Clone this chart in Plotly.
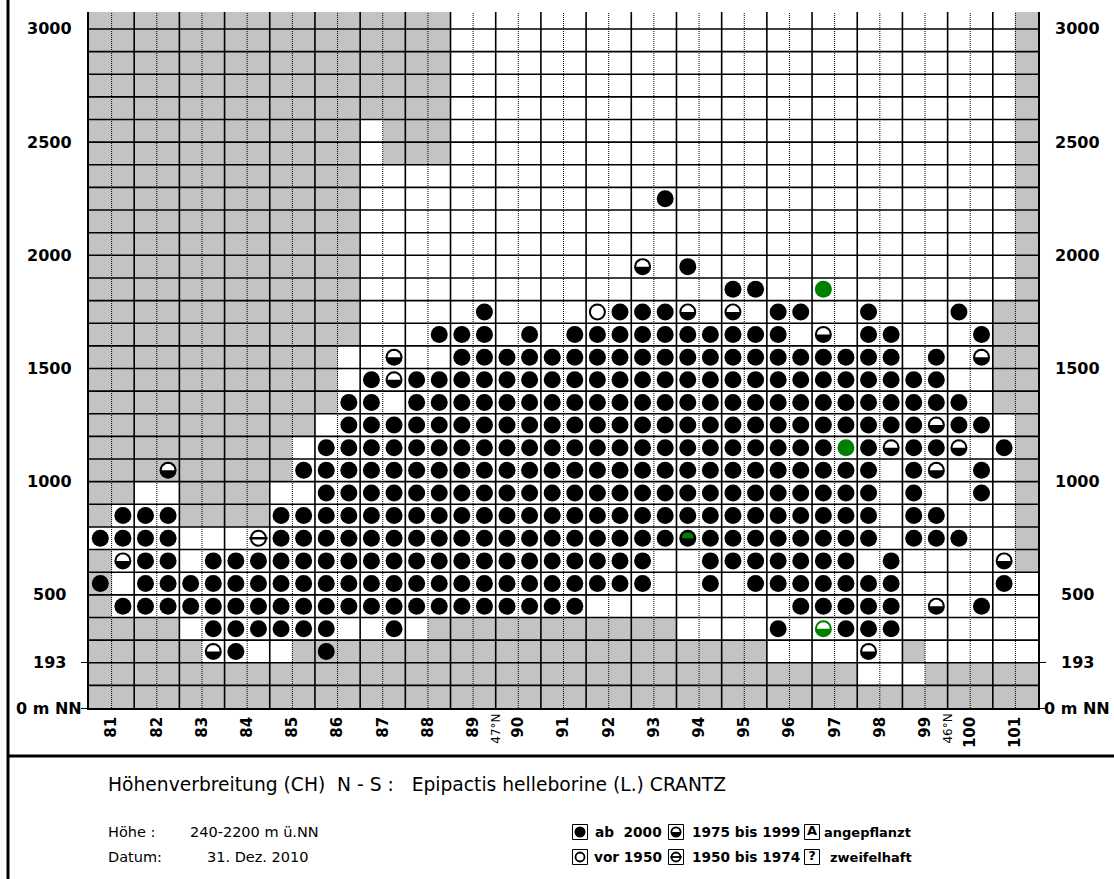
import numpy as np
import plotly.graph_objects as go

# ---------------- data ----------------
N_COLS = 42                       # grid columns (two per label)
N_ROWS = 31                       # 100 m elevation bands, 0 .. 3100
BAND = 100
Y_TOP = 3075
col_labels = [str(v) for v in range(81, 102)]
col_label_pos = [1 + 2 * i for i in range(21)]
lat_text = ['47°N', '46°N']
lat_pos = [18, 38]
ytick_vals = [3000, 2500, 2000, 1500, 1000, 500, 200, 0]
ytick_text = ['3000', '2500', '2000', '1500', '1000', '500', '193', '0 m NN']

# grey (outside area) cells per band: (first col, last col)
gray_runs = {
    30: [(0, 15), (41, 41)], 29: [(0, 15), (41, 41)], 28: [(0, 15), (41, 41)],
    27: [(0, 15), (41, 41)], 26: [(0, 15), (41, 41)],
    25: [(0, 11), (13, 15), (41, 41)], 24: [(0, 11), (13, 15), (41, 41)],
    23: [(0, 11), (41, 41)], 22: [(0, 11), (41, 41)], 21: [(0, 11), (41, 41)],
    20: [(0, 11), (41, 41)], 19: [(0, 11), (41, 41)], 18: [(0, 11), (41, 41)],
    17: [(0, 11), (40, 41)], 16: [(0, 11), (40, 41)],
    15: [(0, 10), (40, 41)], 14: [(0, 10), (40, 41)], 13: [(0, 10), (40, 41)],
    12: [(0, 9), (41, 41)],
    11: [(0, 8), (41, 41)], 10: [(0, 8), (41, 41)],
    9: [(0, 1), (4, 7), (41, 41)],
    8: [(0, 0), (4, 7), (41, 41)],
    7: [(41, 41)],
    6: [(0, 0), (41, 41)],
    5: [(0, 0)],
    4: [(0, 0)],
    3: [(0, 3), (15, 25)],
    2: [(0, 4), (9, 29), (36, 36)],
    1: [(0, 33), (37, 41)],
    0: [(0, 41)],
}

# records per band: (first col, last col, kind)
# F = ab 2000, O = vor 1950, H = 1975 bis 1999, L = 1950 bis 1974,
# G = green filled, g = green 1975-1999, K = black with green top
record_runs = {
    22: [(25, 25, 'F')],
    19: [(24, 24, 'H'), (26, 26, 'F')],
    18: [(28, 29, 'F'), (32, 32, 'G')],
    17: [(17, 17, 'F'), (22, 22, 'O'), (23, 25, 'F'), (26, 26, 'H'), (28, 28, 'H'),
         (30, 31, 'F'), (34, 34, 'F'), (38, 38, 'F')],
    16: [(15, 17, 'F'), (19, 19, 'F'), (21, 30, 'F'), (32, 32, 'H'), (34, 35, 'F'), (39, 39, 'F')],
    15: [(13, 13, 'H'), (16, 35, 'F'), (37, 37, 'F'), (39, 39, 'H')],
    14: [(12, 12, 'F'), (13, 13, 'H'), (14, 37, 'F')],
    13: [(11, 12, 'F'), (14, 38, 'F')],
    12: [(11, 36, 'F'), (37, 37, 'H'), (38, 39, 'F')],
    11: [(10, 32, 'F'), (33, 33, 'G'), (34, 34, 'F'), (35, 35, 'H'), (36, 37, 'F'),
         (38, 38, 'H'), (40, 40, 'F')],
    10: [(3, 3, 'H'), (9, 34, 'F'), (36, 36, 'F'), (37, 37, 'H'), (39, 39, 'F')],
    9: [(10, 34, 'F'), (36, 36, 'F'), (39, 39, 'F')],
    8: [(1, 3, 'F'), (8, 34, 'F'), (36, 37, 'F')],
    7: [(0, 3, 'F'), (7, 7, 'L'), (8, 25, 'F'), (26, 26, 'K'), (27, 34, 'F'), (36, 38, 'F')],
    6: [(1, 1, 'H'), (2, 3, 'F'), (5, 24, 'F'), (27, 33, 'F'), (35, 35, 'F'), (40, 40, 'H')],
    5: [(0, 0, 'F'), (2, 24, 'F'), (27, 27, 'F'), (29, 35, 'F'), (40, 40, 'F')],
    4: [(1, 21, 'F'), (31, 35, 'F'), (37, 37, 'H'), (39, 39, 'F')],
    3: [(5, 10, 'F'), (13, 13, 'F'), (30, 30, 'F'), (32, 32, 'g'), (33, 35, 'F')],
    2: [(5, 5, 'H'), (6, 6, 'F'), (10, 10, 'F'), (34, 34, 'H')],
}

title_text = ('Höhenverbreitung (CH)\u00a0 N - S :\u00a0\u00a0 '
              'Epipactis helleborine (L.) CRANTZ')
info_keys = ['Höhe :', 'Datum:']
info_vals = ['240-2200 m ü.NN', '31. Dez. 2010']
legend_text = [['ab\u00a0 2000', '1975 bis 1999', 'angepflanzt'],
               ['vor 1950', '1950 bis 1974', 'zweifelhaft']]

# ---------------- geometry ----------------
W, H = 1114, 879
ML, MR, MT, MB = 89, 76, 12, 0
PW, PH = W - ML - MR, H - MT - MB
GRID_BOTTOM = 708
main_dom = [(H - GRID_BOTTOM) / PH, 1.0]
px_per_col = PW / N_COLS
px_per_m = (GRID_BOTTOM - MT) / Y_TOP
LEG_H = 119
leg_dom = [0, LEG_H / PH]

GRAY = '#c3c3c3'
GREEN = '#008000'

z = np.zeros((N_ROWS, N_COLS))
for r, runs in gray_runs.items():
    for a, b in runs:
        z[r, a:b + 1] = 1

pts = {k: ([], []) for k in 'FOHLGgK'}
for r, runs in record_runs.items():
    for a, b, k in runs:
        for c in range(a, b + 1):
            pts[k][0].append(c + 0.5)
            pts[k][1].append(r * BAND + BAND / 2)


def merge(*keys):
    xs, ys = [], []
    for k in keys:
        xs += pts[k][0]
        ys += pts[k][1]
    return xs, ys


def half_disc(xs, ys, r_px, sx, sy, n=25):
    X, Y = [], []
    for cx, cy in zip(xs, ys):
        for t in np.linspace(0, np.pi, n):
            X.append(cx + r_px * np.cos(t) / sx)
            Y.append(cy + r_px * np.sin(t) / sy)
        X.append(None)
        Y.append(None)
    return X, Y


fig = go.Figure()

fig.add_trace(go.Heatmap(
    x=[c + 0.5 for c in range(N_COLS)], y=[r * BAND + BAND / 2 for r in range(N_ROWS)],
    z=z, zmin=0, zmax=1, colorscale=[[0, 'white'], [1, GRAY]], showscale=False,
    hoverinfo='skip'))

# grid lines
hx, hy = [], []
for k in range(1, 31):
    hx += [0, N_COLS, None]
    hy += [k * BAND, k * BAND, None]
for c in range(2, N_COLS, 2):
    hx += [c, c, None]
    hy += [0, Y_TOP, None]
fig.add_trace(go.Scatter(x=hx, y=hy, mode='lines', line=dict(color='black', width=1.6),
                         hoverinfo='skip'))
dx, dy = [], []
for c in range(1, N_COLS, 2):
    dx += [c, c, None]
    dy += [0, Y_TOP, None]
fig.add_trace(go.Scatter(x=dx, y=dy, mode='lines',
                         line=dict(color='black', width=1, dash='1px,1px'), hoverinfo='skip'))

# markers
bx, by = merge('F', 'H', 'K')
fig.add_trace(go.Scatter(x=bx, y=by, mode='markers', hoverinfo='skip',
                         marker=dict(symbol='circle', size=17, color='black', line=dict(width=0))))
gx, gy = merge('G', 'g')
fig.add_trace(go.Scatter(x=gx, y=gy, mode='markers', hoverinfo='skip',
                         marker=dict(symbol='circle', size=17, color=GREEN, line=dict(width=0))))
ox, oy = merge('O', 'L')
fig.add_trace(go.Scatter(x=ox, y=oy, mode='markers', hoverinfo='skip',
                         marker=dict(symbol='circle', size=15, color='white',
                                     line=dict(width=2, color='black'))))
lx, ly = merge('L')
fig.add_trace(go.Scatter(x=lx, y=ly, mode='markers', hoverinfo='skip',
                         marker=dict(symbol='line-ew', size=13, color='black',
                                     line=dict(width=2.5, color='black'))))
wx, wy = half_disc(*merge('H', 'g'), 6.5, px_per_col, px_per_m)
fig.add_trace(go.Scatter(x=wx, y=wy, mode='lines', fill='toself', fillcolor='white',
                         line=dict(width=0, color='white'), hoverinfo='skip'))
kx, ky = half_disc(*merge('K'), 6, px_per_col, px_per_m)
fig.add_trace(go.Scatter(x=kx, y=ky, mode='lines', fill='toself', fillcolor=GREEN,
                         line=dict(width=0, color=GREEN), hoverinfo='skip'))

# ---------------- legend / footer (pixel-unit subplot) ----------------
def ly_(py):
    return H - py

row_y = [832, 857]
box_x = [580, 676, 812]
sq_x, sq_y = [], []
for yy in row_y:
    for xx in box_x:
        sq_x.append(xx)
        sq_y.append(ly_(yy))
fig.add_trace(go.Scatter(x=sq_x, y=sq_y, mode='markers', xaxis='x2', yaxis='y2', hoverinfo='skip',
                         marker=dict(symbol='square-open', size=15, color='black',
                                     line=dict(width=1, color='black'))))
fig.add_trace(go.Scatter(x=[box_x[0], box_x[1]], y=[ly_(row_y[0])] * 2, mode='markers',
                         xaxis='x2', yaxis='y2', hoverinfo='skip',
                         marker=dict(symbol='circle', size=11, color='black', line=dict(width=0))))
fig.add_trace(go.Scatter(x=[box_x[0], box_x[1]], y=[ly_(row_y[1])] * 2, mode='markers',
                         xaxis='x2', yaxis='y2', hoverinfo='skip',
                         marker=dict(symbol='circle', size=9, color='white',
                                     line=dict(width=1.8, color='black'))))
fig.add_trace(go.Scatter(x=[box_x[1]], y=[ly_(row_y[1])], mode='markers', xaxis='x2', yaxis='y2',
                         hoverinfo='skip',
                         marker=dict(symbol='line-ew', size=8, color='black',
                                     line=dict(width=1.8, color='black'))))
lwx, lwy = half_disc([box_x[1]], [ly_(row_y[0])], 3.8, 1, 1)
fig.add_trace(go.Scatter(x=lwx, y=lwy, mode='lines', fill='toself', fillcolor='white',
                         line=dict(width=0, color='white'), xaxis='x2', yaxis='y2',
                         hoverinfo='skip'))
fig.add_trace(go.Scatter(x=[box_x[2], box_x[2]], y=[ly_(row_y[0]), ly_(row_y[1])], mode='text',
                         text=['A', '?'], xaxis='x2', yaxis='y2', textposition='middle center',
                         hoverinfo='skip',
                         textfont=dict(family='DejaVu Sans', size=13, color='black', weight='bold')))

bold = dict(family='DejaVu Sans', size=16, color='black', weight='bold')
ann = []
for v, t in zip(ytick_vals, ytick_text):
    for px in (49, 1077):
        ann.append(dict(x=(px - ML) / PW, xref='paper', y=v, yref='y', text=t, showarrow=False,
                        xanchor='center', yanchor='middle', font=bold))
for p, t in zip(lat_pos, lat_text):
    ann.append(dict(x=p, xref='x', y=(H - GRID_BOTTOM - 4) / PH, yref='paper', text=t,
                    showarrow=False, textangle=-90, xanchor='center', yanchor='top',
                    font=dict(family='DejaVu Sans', size=12, color='black')))

ann.append(dict(x=106, xref='x2', y=ly_(784), yref='y2', text=title_text, showarrow=False,
                xanchor='left', yanchor='middle',
                font=dict(family='DejaVu Sans', size=18.7, color='black')))
reg = dict(family='DejaVu Sans', size=14.5, color='black')
for yy, k, v, vx in zip(row_y, info_keys, info_vals, [188, 205]):
    ann.append(dict(x=106, xref='x2', y=ly_(yy), yref='y2', text=k, showarrow=False,
                    xanchor='left', yanchor='middle', font=reg))
    ann.append(dict(x=vx, xref='x2', y=ly_(yy), yref='y2', text=v, showarrow=False,
                    xanchor='left', yanchor='middle', font=reg))
leg_font = dict(family='DejaVu Sans', size=13.7, color='black', weight='bold')
for i, yy in enumerate(row_y):
    ann.append(dict(x=664, xref='x2', y=ly_(yy), yref='y2', text=legend_text[i][0],
                    showarrow=False, xanchor='right', yanchor='middle', font=leg_font))
    ann.append(dict(x=690, xref='x2', y=ly_(yy), yref='y2', text=legend_text[i][1],
                    showarrow=False, xanchor='left', yanchor='middle', font=leg_font))
    ann.append(dict(x=[822, 828][i], xref='x2', y=ly_(yy), yref='y2', text=legend_text[i][2],
                    showarrow=False, xanchor='left', yanchor='middle',
                    font=dict(leg_font, size=13)))

shapes = [
    dict(type='line', xref='paper', yref='paper', x0=(8 - ML) / PW, x1=(8 - ML) / PW,
         y0=1 + MT / PH, y1=0, line=dict(color='black', width=3)),
    dict(type='line', xref='paper', yref='paper', x0=(8 - ML) / PW, x1=(W - ML) / PW,
         y0=(H - 756) / PH, y1=(H - 756) / PH, line=dict(color='black', width=3)),
]

fig.update_layout(
    width=W, height=H, margin=dict(l=ML, r=MR, t=MT, b=MB, pad=0),
    paper_bgcolor='white', plot_bgcolor='white', showlegend=False, hovermode=False,
    xaxis=dict(range=[0, N_COLS], domain=[0, 1], anchor='y', tickmode='array',
               tickvals=col_label_pos, ticktext=col_labels, tickangle=-90,
               tickfont=dict(family='DejaVu Sans', size=15, color='black', weight='bold'),
               showgrid=False, zeroline=False, showline=True, linecolor='black', linewidth=1.5,
               ticks='', ticklabelstandoff=1, fixedrange=True),
    yaxis=dict(range=[0, Y_TOP], domain=main_dom, anchor='x', showgrid=False, zeroline=False,
               showline=True, mirror='ticks', linecolor='black', linewidth=1.5,
               ticks='outside', tickvals=[0, 200], ticklen=6, tickcolor='black', tickwidth=1,
               showticklabels=False, fixedrange=True),
    xaxis2=dict(range=[ML, W - MR], domain=[0, 1], anchor='y2', visible=False, fixedrange=True),
    yaxis2=dict(range=[0, LEG_H], domain=leg_dom, anchor='x2', visible=False, fixedrange=True),
    annotations=ann, shapes=shapes,
)

fig.write_html('out.html', config={'displayModeBar': False},
               post_script="document.body.style.margin='0px';"
                           "document.body.style.overflow='hidden';")
